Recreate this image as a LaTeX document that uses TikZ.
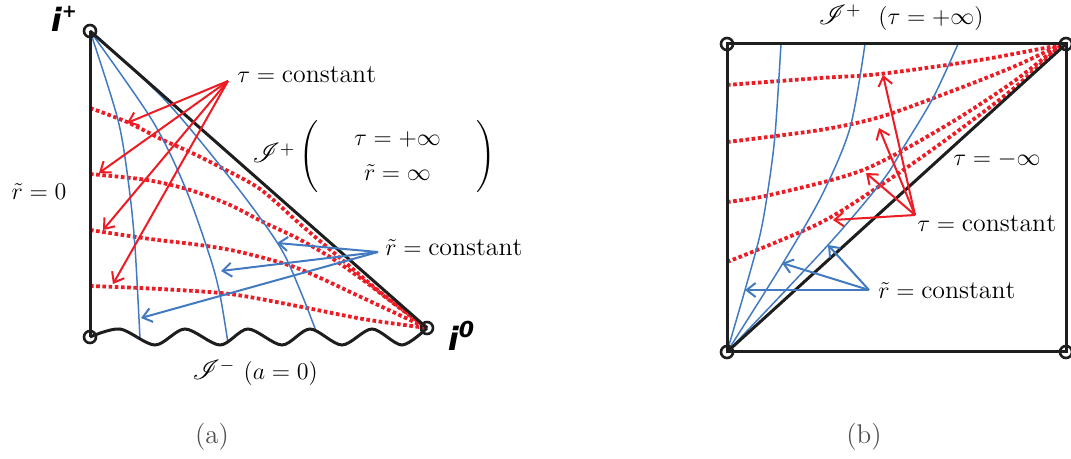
\documentclass[tikz,border=0pt]{standalone}
\usepackage{fontspec}
\usepackage{amsmath}
\usepackage{mathrsfs}
\usetikzlibrary{arrows.meta}
\newfontfamily\ifont{DejaVu Sans}
\definecolor{cred}{RGB}{237,28,36}
\definecolor{cblue}{RGB}{66,122,193}
\definecolor{ink}{RGB}{30,30,30}
\definecolor{capc}{RGB}{80,80,80}
\newcommand{\bigJ}{\scalebox{1.15}{$\mathscr{I}$}}
\begin{document}
\begin{tikzpicture}[x=0.5pt,y=-0.5pt,
  frame/.style={draw=ink, line width=1.5pt},
  bcurve/.style={draw=cblue, line width=0.75pt},
  rdot/.style={draw=cred, line width=1.9pt, dash pattern=on 1.8pt off 1.3pt},
  rarr/.style={draw=cred, line width=1pt, -{Straight Barb[length=4.5pt,width=7pt]}},
  barr/.style={draw=cblue, line width=1pt, -{Straight Barb[length=4.5pt,width=7pt]}},
  cornerc/.style={draw=ink, line width=1.3pt},
  lbl/.style={font=\fontsize{12.9}{15.5}\selectfont, inner sep=0pt},
  ilbl/.style={font=\fontsize{16}{20}\selectfont\ifont\bfseries\itshape, inner sep=0pt},
  captxt/.style={font=\fontsize{13.5}{16}\selectfont, text=capc, inner sep=0pt}]
\useasboundingbox (0,0) rectangle (1071,459);

% ---------------- panel (a) ----------------
\coordinate (ip) at (90,31);
\coordinate (bl) at (90,337);
\coordinate (io) at (427,328);

% red dotted
\draw[rdot] plot[smooth] coordinates {(90,108) (127,122) (163,140) (190,152) (220,167) (260,189) (300,224) (340,258) (380,292) (io)};
\draw[rdot] plot[smooth] coordinates {(90,174) (147,180) (190,190) (230,205) (263,222) (297,238) (330,257) (363,280) (397,306) (io)};
\draw[rdot] plot[smooth] coordinates {(90,230) (150,239) (200,245) (240,252) (297,268) (363,298) (io)};
\draw[rdot] plot[smooth] coordinates {(90,286) (160,289) (230,294) (297,306) (363,319) (io)};

% blue curves
\draw[bcurve] plot[smooth] coordinates {(ip) (118,120) (129,187) (135,247) (140,339)};
\draw[bcurve] plot[smooth] coordinates {(ip) (152,120) (185,187) (210,257) (220,295) (228,343)};
\draw[bcurve] plot[smooth] coordinates {(ip) (165,100) (237,187) (280,247) (300,290) (316,331)};

% frame
\draw[frame] (ip) -- (bl);
\draw[frame] (ip) -- (io);
\draw[frame] plot[smooth] coordinates {(bl) (120,329) (155,345) (185,329) (220,345) (248,329) (282,345) (310,329) (342,345) (372,329) (402,345) (io)};

% red arrows
\coordinate (sa) at (228,81);
\draw[rarr] (sa) -- (127,123);
\draw[rarr] (sa) -- (99,173);
\draw[rarr] (sa) -- (103,230);
\draw[rarr] (sa) -- (113,284);

% blue arrows
\coordinate (sb) at (378,252);
\draw[barr] (sb) -- (277,243);
\draw[barr] (sb) -- (221,271);
\draw[barr] (sb) -- (141,318);

% corners
\draw[cornerc] (ip) circle[radius=3pt];
\draw[cornerc] (bl) circle[radius=3pt];
\draw[cornerc] (io) circle[radius=3pt];

% labels
\node[ilbl] (lip) at (64,19) {i\raisebox{0.45em}{\fontsize{9}{10}\selectfont +}};
\node[ilbl] (lio) at (461,336) {i\raisebox{0.4em}{\fontsize{11}{10}\selectfont 0}};
\node[lbl, anchor=west] (ltca) at (237,75) {$\tau = \mathrm{constant}$};
\node[lbl, anchor=west] (lrca) at (385,248) {$\tilde r = \mathrm{constant}$};
\node[lbl] (lr0) at (39,192) {$\tilde r = 0$};
\node[lbl] (ljp) at (374,157) {\bigJ$^{+}\left(\quad\begin{array}{c}\tau = +\infty\\[2pt] \tilde r = \infty\end{array}\quad\right)$};
\node[lbl] (ljm) at (255,373) {\bigJ$^{-}\ (a = 0)$};
\node[captxt] (capa) at (212,437) {(a)};

% ---------------- panel (b) ----------------
\coordinate (tl) at (727,44);
\coordinate (tr) at (1066,44);
\coordinate (bbl) at (727,352);
\coordinate (bbr) at (1066,352);

% red dotted
\draw[rdot] plot[smooth] coordinates {(727,85) (820,78) (880,74) (980,60) (1060,45)};
\draw[rdot] plot[smooth] coordinates {(727,142) (820,130) (880,117) (947,93) (1013,67) (1060,45)};
\draw[rdot] plot[smooth] coordinates {(727,202) (770,195) (863,170) (947,125) (1013,82) (1060,45)};
\draw[rdot] plot[smooth] coordinates {(727,262) (820,223) (887,181) (947,139) (1013,89) (1060,46)};

% blue curves
\draw[bcurve] plot[smooth] coordinates {(bbl) (745,290) (760,235) (768,190) (775,135) (781,44)};
\draw[bcurve] plot[smooth] coordinates {(bbl) (783,263) (822,195) (850,128) (865,44)};
\draw[bcurve] plot[smooth] coordinates {(bbl) (828,245) (883,180) (903,148) (933,98) (958,44)};

% frame
\draw[frame] (tl) -- (tr) -- (bbr) -- (bbl) -- cycle;
\draw[frame] (bbl) -- (tr);

% red arrows
\coordinate (sc) at (915,215);
\draw[rarr] (sc) -- (883,75);
\draw[rarr] (sc) -- (879,128);
\draw[rarr] (sc) -- (866,173);
\draw[rarr] (sc) -- (833,220);

% blue arrows
\coordinate (sd) at (869,290);
\draw[barr] (sd) -- (828,245);
\draw[barr] (sd) -- (782,263);
\draw[barr] (sd) -- (745,290);

% corners
\draw[cornerc] (tl) circle[radius=3pt];
\draw[cornerc] (tr) circle[radius=3pt];
\draw[cornerc] (bbl) circle[radius=3pt];
\draw[cornerc] (bbr) circle[radius=3pt];

% labels
\node[lbl] (ljpb) at (901,18) {\bigJ$^{+}\ \ (\tau = +\infty)$};
\node[lbl, anchor=west] (ltcb) at (917,224) {$\tau = \mathrm{constant}$};
\node[lbl, anchor=west] (lrcb) at (878,291) {$\tilde r = \mathrm{constant}$};
\node[lbl, anchor=west] (ltinf) at (953,160) {$\tau = -\infty$};
\node[captxt] (capb) at (864,437) {(b)};
\end{tikzpicture}
\end{document}
